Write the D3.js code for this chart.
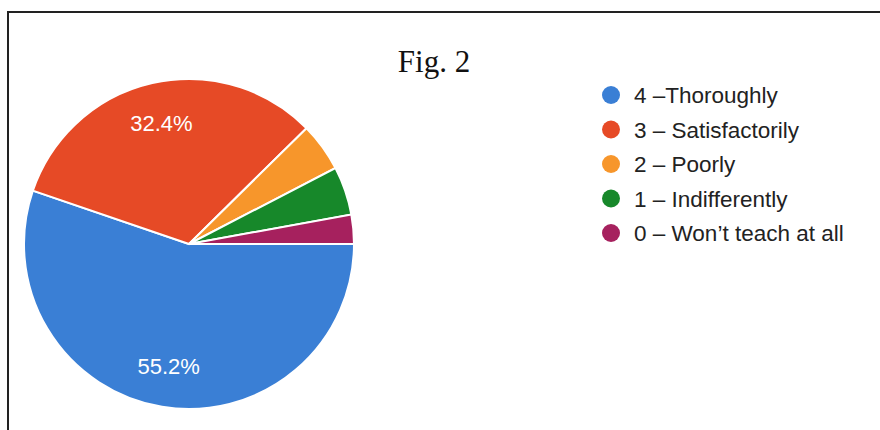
<!DOCTYPE html>
<html>
<head>
<meta charset="utf-8">
<script src="https://cdn.jsdelivr.net/npm/d3@7"></script>
<style>
  body { margin: 0; background: #fff; }
</style>
</head>
<body>
<div id="chart"></div>
<script>
// data
var categories = ["4 \u2013Thoroughly", "3 \u2013 Satisfactorily", "2 \u2013 Poorly", "1 \u2013 Indifferently", "0 \u2013 Won\u2019t teach at all"];
var counts = [58, 34, 5, 5, 3];
var colors = ["#3a7fd5", "#e64a26", "#f7962b", "#17882a", "#a6215e"];
var title = "Fig. 2";

var width = 880, height = 430;
var cx = 189, cy = 244, radius = 165;

var svg = d3.select("#chart")
  .append("svg")
    .attr("width", width)
    .attr("height", height);

// scanned frame
svg.append("rect")
  .attr("x", 8)
  .attr("y", 12)
  .attr("width", 900)
  .attr("height", 460)
  .attr("fill", "none")
  .attr("stroke", "#222")
  .attr("stroke-width", 2);

svg.append("text")
  .attr("x", 434)
  .attr("y", 72)
  .attr("text-anchor", "middle")
  .style("font-family", "'Liberation Serif', 'Times New Roman', serif")
  .style("font-size", "31px")
  .attr("fill", "#111")
  .text(title);

var data = categories.map(function(c, i) { return {name: c, value: counts[i], color: colors[i]}; });
var total = d3.sum(counts);

var pie = d3.pie()
  .sort(null)
  .value(function(d) { return d.value; })
  .startAngle(Math.PI / 2)
  .endAngle(Math.PI / 2 + 2 * Math.PI);

var arc = d3.arc().innerRadius(0).outerRadius(radius);
var labelArc = d3.arc().innerRadius(radius * 0.75).outerRadius(radius * 0.75);

var g = svg.append("g")
  .attr("transform", "translate(" + cx + "," + cy + ")");

var slices = g.selectAll(".slice")
  .data(pie(data))
  .enter().append("g")
  .attr("class", "slice");

slices.append("path")
  .attr("d", arc)
  .attr("fill", function(d) { return d.data.color; })
  .attr("stroke", "#fff")
  .attr("stroke-width", 2);

// only the big slices get a label
slices.filter(function(d) { return d.data.value / total > 0.1; })
  .append("text")
  .attr("transform", function(d) { return "translate(" + labelArc.centroid(d) + ")"; })
  .attr("text-anchor", "middle")
  .attr("dy", "0.35em")
  .style("font-family", "'Liberation Sans', Arial, sans-serif")
  .style("font-size", "22px")
  .attr("fill", "#fff")
  .text(function(d) { return (d.data.value / total * 100).toFixed(1) + "%"; });

// legend
var legend = svg.append("g")
  .attr("transform", "translate(611,95)");

var rows = legend.selectAll(".row")
  .data(data)
  .enter().append("g")
  .attr("class", "row")
  .attr("transform", function(d, i) { return "translate(0," + i * 34.5 + ")"; });

rows.append("circle")
  .attr("r", 9)
  .attr("fill", function(d) { return d.color; });

rows.append("text")
  .attr("x", 23)
  .attr("dy", "0.36em")
  .style("font-family", "'Liberation Sans', Arial, sans-serif")
  .style("font-size", "22.5px")
  .attr("fill", "#222")
  .text(function(d) { return d.name; });
</script>
</body>
</html>
